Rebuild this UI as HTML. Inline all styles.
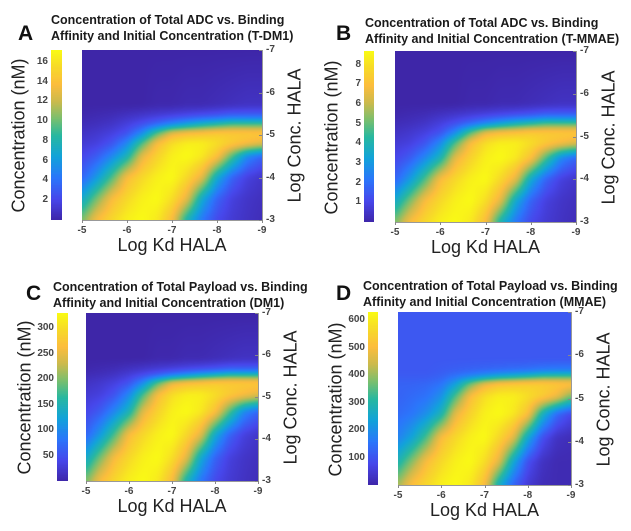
<!DOCTYPE html>
<html><head><meta charset="utf-8">
<style>
body{margin:0;background:#fff;width:631px;height:531px;overflow:hidden;position:relative;font-family:"Liberation Sans",sans-serif}
.abs{position:absolute}
.letter{font-size:21px;font-weight:bold;color:#111}
.title{font-size:12.5px;font-weight:bold;color:#1a1a1a;line-height:16px;white-space:nowrap}
.tick{font-size:10px;color:#444;font-weight:bold}
.axl{font-size:18px;color:#222;white-space:nowrap}
canvas{position:absolute}
</style></head><body>
<script>
// ---- data ----
const xTicks=['-5','-6','-7','-8','-9'];
const yTicks=['-7','-6','-5','-4','-3'];
const gridCols=[0,0.083,0.167,0.25,0.333,0.417,0.5,0.583,0.667,0.75,0.833,0.917,1];
const rowsA=[-3,-3.5,-4,-4.5,-4.8,-5.05,-5.25,-5.45,-5.7,-7];
const gridA=[
[.6,.8,.9,.97,1,.95,.8,.45,.25,.13,.08,.05,.03],
[.4,.6,.8,.9,.97,1,.92,.75,.4,.2,.1,.06,.04],
[.2,.35,.55,.8,.9,.97,1,.9,.75,.4,.2,.1,.06],
[.12,.18,.3,.45,.75,.88,.97,1,.95,.82,.55,.3,.2],
[.08,.1,.16,.3,.55,.8,.92,.97,.97,.92,.85,.8,.75],
[.05,.07,.1,.15,.3,.55,.75,.8,.82,.85,.85,.85,.85],
[.03,.04,.06,.1,.15,.22,.3,.38,.45,.5,.55,.55,.55],
[.01,.02,.03,.05,.07,.09,.11,.13,.15,.17,.2,.2,.2],
[0,0,0,0,0,.01,.01,.02,.02,.03,.04,.05,.05],
[0,0,0,0,0,0,0,0,0,0,0,0,0]];
const rowsB=[-3,-3.5,-4,-4.5,-4.85,-5.1,-5.3,-5.5,-5.75,-7];
const gridB=gridA;
const rowsC=[-3,-3.55,-4.1,-4.65,-5.05,-5.35,-5.5,-5.65,-5.9,-7];
const gridC=[
[.6,.8,.9,.97,1,.95,.8,.45,.25,.13,.08,.05,.03],
[.4,.6,.8,.9,.97,1,.92,.75,.4,.2,.1,.06,.04],
[.2,.35,.55,.8,.9,.97,1,.9,.75,.4,.2,.1,.06],
[.12,.18,.3,.45,.75,.88,.97,1,.95,.82,.55,.3,.2],
[.08,.1,.16,.3,.55,.8,.92,.97,.97,.92,.85,.8,.75],
[.05,.07,.1,.15,.3,.55,.75,.8,.82,.85,.85,.85,.85],
[.03,.04,.06,.1,.15,.22,.3,.38,.45,.5,.55,.55,.55],
[.01,.02,.03,.05,.07,.09,.11,.13,.15,.17,.2,.2,.2],
[0,0,0,0,0,.01,.01,.02,.02,.03,.04,.05,.05],
[0,0,0,0,0,0,0,0,0,0,0,0,0]];
const rowsD=[-3,-3.55,-4.1,-4.65,-5.05,-5.35,-5.5,-5.65,-5.9,-7];
const gridD=[
[.65,.82,.9,.97,1,.95,.8,.42,.2,.08,.03,.02,.02],
[.45,.62,.8,.9,.97,1,.92,.75,.4,.15,.05,.02,.02],
[.28,.38,.55,.8,.9,.97,1,.9,.75,.4,.15,.05,.03],
[.22,.25,.32,.45,.75,.88,.97,1,.95,.82,.45,.22,.12],
[.2,.22,.24,.32,.55,.8,.92,.97,.97,.92,.86,.78,.6],
[.2,.2,.21,.24,.36,.58,.75,.82,.84,.86,.86,.85,.84],
[.18,.18,.18,.2,.25,.3,.36,.42,.46,.5,.55,.56,.56],
[.17,.17,.17,.18,.19,.2,.21,.22,.23,.24,.26,.27,.27],
[.17,.17,.17,.17,.17,.17,.17,.17,.17,.17,.17,.17,.17],
[.17,.17,.17,.17,.17,.17,.17,.17,.17,.17,.17,.17,.17]];
const cbTicksA=[16,14,12,10,8,6,4,2]; const cbMaxA=17.2;
const cbTicksB=[8,7,6,5,4,3,2,1]; const cbMaxB=8.7;
const cbTicksC=[300,250,200,150,100,50]; const cbMaxC=330;
const cbTicksD=[600,500,400,300,200,100]; const cbMaxD=630;

const stops=[[0,[62,38,168]],[.125,[71,71,235]],[.25,[43,118,251]],[.375,[18,163,218]],[.5,[40,184,160]],[.6,[122,191,110]],[.7,[204,186,77]],[.8,[252,189,61]],[.9,[247,217,41]],[1,[249,251,20]]];
function cmap(v){v=Math.max(0,Math.min(1,v));for(let i=1;i<stops.length;i++){if(v<=stops[i][0]){const a=stops[i-1],b=stops[i],t=(v-a[0])/(b[0]-a[0]);return a[1].map((c,k)=>Math.round(c+(b[1][k]-c)*t));}}return stops[stops.length-1][1];}
function sample(grid,rows,f,ly){
  let r=0;while(r<rows.length-2&&ly<rows[r+1])r++;
  const t=Math.max(0,Math.min(1,(rows[r]-ly)/(rows[r]-rows[r+1])));
  let c=0;while(c<gridCols.length-2&&f>gridCols[c+1])c++;
  const s=Math.max(0,Math.min(1,(f-gridCols[c])/(gridCols[c+1]-gridCols[c])));
  const a=grid[r][c]*(1-s)+grid[r][c+1]*s, b=grid[r+1][c]*(1-s)+grid[r+1][c+1]*s;
  return a*(1-t)+b*t;
}
function blur(F,w,h,R){
  const T=new Float32Array(w*h);
  for(let y=0;y<h;y++)for(let x=0;x<w;x++){let s=0,n=0;for(let k=-R;k<=R;k++){const xx=Math.min(w-1,Math.max(0,x+k));s+=F[y*w+xx];n++;}T[y*w+x]=s/n;}
  for(let y=0;y<h;y++)for(let x=0;x<w;x++){let s=0,n=0;for(let k=-R;k<=R;k++){const yy=Math.min(h-1,Math.max(0,y+k));s+=T[yy*w+x];n++;}F[y*w+x]=s/n;}
}
function el(tag,cls,name,txt,css){const e=document.createElement(tag);if(cls)e.className=cls;


if(txt!=null)e.textContent=txt;Object.assign(e.style,css||{});document.body.appendChild(e);return e;}
function panel(P){
  el('div','abs letter','panel-letter-'+P.id,P.id,{left:P.lx+'px',top:P.ly+'px'});
  const t=el('div','abs title','chart-title-'+P.id,null,{left:P.tx+'px',top:P.ty+'px'});
  t.innerHTML=P.t1+'<br>'+P.t2;
  const w=P.hx1-P.hx0,h=P.hy1-P.hy0;
  const cv=el('canvas',null,'heatmap-'+P.id,null,{left:P.hx0+'px',top:P.hy0+'px'});
  cv.width=w;cv.height=h;const ctx=cv.getContext('2d');const im=ctx.createImageData(w,h);
  const F=new Float32Array(w*h);
  for(let y=0;y<h;y++){const ly=-7+4*(y+0.5)/h;for(let x=0;x<w;x++)F[y*w+x]=sample(P.grid,P.rows,(x+0.5)/w,ly);}
  blur(F,w,h,3);blur(F,w,h,2);
  for(let i=0;i<w*h;i++){const c=cmap(F[i]);im.data[i*4]=c[0];im.data[i*4+1]=c[1];im.data[i*4+2]=c[2];im.data[i*4+3]=255;}
  ctx.putImageData(im,0,0);
  const cw=P.cx1-P.cx0;const cb=el('canvas',null,'colorbar-'+P.id,null,{left:P.cx0+'px',top:P.hy0+'px'});
  cb.width=cw;cb.height=h;const c2=cb.getContext('2d');
  for(let y=0;y<h;y++){const c=cmap(1-y/h);c2.fillStyle='rgb('+c+')';c2.fillRect(0,y,cw,1);}
  P.cbt.forEach(v=>{const y=P.hy1-v/P.cbmax*h;
    el('div','abs tick','colorbar-tick-label',String(v),{left:(P.cx0-30)+'px',width:'27px',textAlign:'right',top:(y-6)+'px'});});
  el('div','abs','x-axis-line',null,{left:P.hx0+'px',top:P.hy1+'px',width:w+'px',height:'1px',background:'#999'});
  el('div','abs','y-axis-right-line',null,{left:P.hx1+'px',top:P.hy0+'px',width:'1px',height:h+'px',background:'#999'});
  xTicks.forEach((s,i)=>{const x=P.hx0+w*i/4;
    el('div','abs','x-tick-mark',null,{left:x+'px',top:P.hy1+'px',width:'1px',height:'3px',background:'#888'});
    el('div','abs tick','x-tick-label',s,{left:(x-10)+'px',width:'20px',textAlign:'center',top:(P.hy1+5)+'px'});});
  yTicks.forEach((s,i)=>{const y=P.hy0+h*i/4;
    el('div','abs','y-tick-mark',null,{left:(P.hx1-3)+'px',top:y+'px',width:'3px',height:'1px',background:'#888'});
    el('div','abs tick','y-tick-label',s,{left:(P.hx1+4)+'px',top:(y-6)+'px'});});
  el('div','abs axl','x-axis-title','Log Kd HALA',{left:(P.hx0+w/2-60)+'px',width:'120px',textAlign:'center',top:(P.hy1+15)+'px'});
  el('div','abs axl','colorbar-title','Concentration (nM)',{left:(P.cx0-32-85)+'px',width:'170px',textAlign:'center',top:(P.hy0+h/2-10)+'px',transform:'rotate(-90deg)'});
  el('div','abs axl','y-axis-right-title','Log Conc. HALA',{left:(P.hx1+33-70)+'px',width:'140px',textAlign:'center',top:(P.hy0+h/2-10)+'px',transform:'rotate(-90deg)'});
}
panel({id:'A',lx:18,ly:22,tx:51,ty:12,t1:'Concentration of Total ADC vs. Binding',t2:'Affinity and Initial Concentration (T-DM1)',hx0:82,hx1:262,hy0:50,hy1:220,cx0:51,cx1:62,grid:gridA,rows:rowsA,cbt:cbTicksA,cbmax:cbMaxA});
panel({id:'B',lx:336,ly:22,tx:365,ty:15,t1:'Concentration of Total ADC vs. Binding',t2:'Affinity and Initial Concentration (T-MMAE)',hx0:395,hx1:576,hy0:51,hy1:222,cx0:364,cx1:374,grid:gridB,rows:rowsB,cbt:cbTicksB,cbmax:cbMaxB});
panel({id:'C',lx:26,ly:282,tx:53,ty:279,t1:'Concentration of Total Payload vs. Binding',t2:'Affinity and Initial Concentration (DM1)',hx0:86,hx1:258,hy0:313,hy1:481,cx0:57,cx1:68,grid:gridC,rows:rowsC,cbt:cbTicksC,cbmax:cbMaxC});
panel({id:'D',lx:336,ly:282,tx:363,ty:278,t1:'Concentration of Total Payload vs. Binding',t2:'Affinity and Initial Concentration (MMAE)',hx0:398,hx1:571,hy0:312,hy1:485,cx0:368,cx1:378,grid:gridD,rows:rowsD,cbt:cbTicksD,cbmax:cbMaxD});
</script>
</body></html>
